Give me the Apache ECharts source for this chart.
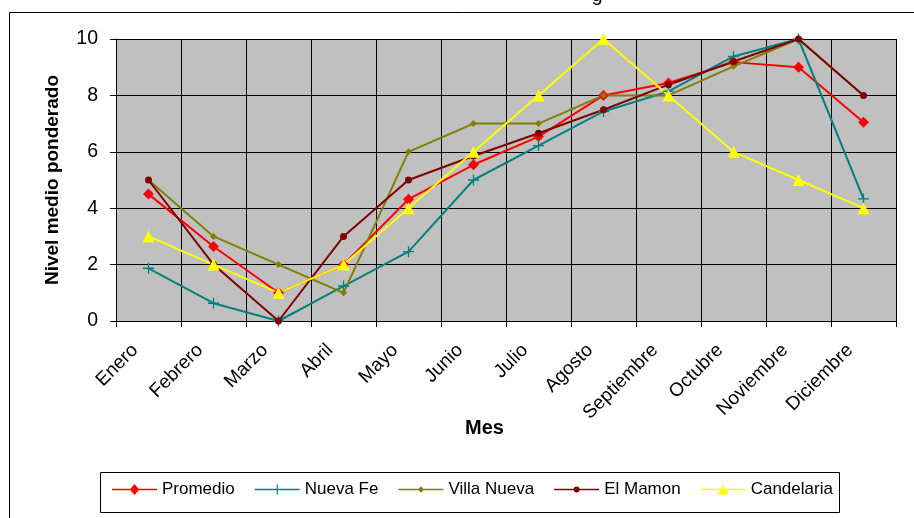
<!DOCTYPE html>
<html>
<head>
<meta charset="utf-8">
<script src="https://cdn.jsdelivr.net/npm/echarts@6/dist/echarts.min.js"></script>
<style>
  html, body { margin: 0; padding: 0; background: #fff; }
  #chart { width: 914px; height: 518px; }
</style>
</head>
<body>
<div id="chart"></div>
<script>
// Monthly weighted mean level per locality
const months = ['Enero', 'Febrero', 'Marzo', 'Abril', 'Mayo', 'Junio', 'Julio', 'Agosto', 'Septiembre', 'Octubre', 'Noviembre', 'Diciembre'];
const promedio   = [4.5, 2.64, 1, 2, 4.32, 5.54, 6.54, 8, 8.44, 9.18, 9, 7.05];
const nuevaFe    = [1.87, 0.63, 0, 1.24, 2.46, 5, 6.22, 7.43, 8.14, 9.38, 10, 4.33];
const villaNueva = [5, 3, 2, 1, 6, 7, 7, 8, 8, 9.03, 10, 8];
const elMamon    = [5, 2, 0, 3, 5, 5.85, 6.66, 7.49, 8.38, 9.2, 10, 8];
const candelaria = [3, 2, 1, 2, 4, 6, 8, 10, 8, 6, 5, 4];
const yMin = 0, yMax = 10, yStep = 2;

const FONT = '"Liberation Sans", Arial, sans-serif';
const PLUS = 'path://M4.4,0h1.2v4.4h4.4v1.2h-4.4v4.4h-1.2v-4.4h-4.4v-1.2h4.4z';

// Legend keys: a 45x12 line segment with the series marker in the middle.
// Degenerate segments at the top and bottom keep every key's bounds at 45x12.
const KEY_FRAME = 'M22.5,0L22.5,0M22.5,12L22.5,12';
const KEY_LINE = 'M0,5.2h45v1.6h-45z';
const legendKeys = {
  'Promedio':    'path://' + KEY_FRAME + KEY_LINE + 'M17.8,6L22.5,0.5L27.2,6L22.5,11.5Z',
  'Nueva Fe':    'path://' + KEY_FRAME + KEY_LINE + 'M21.9,1h1.2v10h-1.2zM17.5,5.4h10v1.2h-10z',
  'Villa Nueva': 'path://' + KEY_FRAME + KEY_LINE + 'M19.3,6L22.5,2.8L25.7,6L22.5,9.2Z',
  'El Mamon':    'path://' + KEY_FRAME + KEY_LINE + 'M19.5,6A3,3 0 1,1 25.5,6A3,3 0 1,1 19.5,6Z',
  'Candelaria':  'path://' + KEY_FRAME + KEY_LINE + 'M22.5,1.5L28,11L17,11Z'
};

function line(name, data, color, symbol, size) {
  return {
    name, type: 'line', data,
    symbol, symbolSize: size, showAllSymbol: true,
    lineStyle: { color, width: 2 },
    itemStyle: { color, borderWidth: 0 },
    emphasis: { disabled: true },
    animation: false
  };
}

const seriesNames = ['Promedio', 'Nueva Fe', 'Villa Nueva', 'El Mamon', 'Candelaria'];

const chart = echarts.init(document.getElementById('chart'), null, { renderer: 'canvas' });
chart.setOption({
  backgroundColor: '#fff',
  textStyle: { fontFamily: FONT },
  grid: { left: 116, right: 18, top: 39, bottom: 197, show: true, backgroundColor: '#C0C0C0', borderWidth: 0 },
  xAxis: {
    type: 'category', data: months, boundaryGap: true,
    name: 'Mes', nameLocation: 'middle', nameGap: 97, nameMoveOverlap: false,
    nameTextStyle: { fontSize: 20, fontWeight: 'bold', color: '#000', fontFamily: FONT, padding: [0, 43, 0, 0] },
    axisLine: { lineStyle: { color: '#000', width: 1 } },
    axisTick: { show: true, length: 6, lineStyle: { color: '#000' } },
    axisLabel: { rotate: 45, margin: 13, padding: [0, 19, 0, 0], fontSize: 19, color: '#000', fontFamily: FONT, interval: 0 },
    splitLine: { show: true, lineStyle: { color: '#000', width: 1 } }
  },
  yAxis: {
    type: 'value', min: yMin, max: yMax, interval: yStep,
    name: 'Nivel medio ponderado', nameLocation: 'middle', nameGap: 54, nameMoveOverlap: false,
    nameTextStyle: { fontSize: 19, fontWeight: 'bold', color: '#000', fontFamily: FONT },
    axisLine: { show: true, lineStyle: { color: '#000', width: 1 } },
    axisTick: { show: true, length: 6, lineStyle: { color: '#000' } },
    axisLabel: { margin: 18, fontSize: 19.5, color: '#000', fontFamily: FONT },
    splitLine: { show: true, lineStyle: { color: '#000', width: 1 } }
  },
  legend: {
    left: 112, top: 481, padding: 0, itemGap: 20,
    itemWidth: 45, itemHeight: 12,
    textStyle: { fontSize: 17, color: '#000', fontFamily: FONT },
    data: seriesNames.map(n => ({ name: n, icon: legendKeys[n] })),
    selectedMode: false
  },
  graphic: [
    { type: 'rect', shape: { x: 9.5, y: 12.5, width: 1000, height: 1000 }, style: { fill: 'none', stroke: '#000', lineWidth: 1 }, silent: true, z: -10 },
    { type: 'rect', shape: { x: 100.5, y: 472.5, width: 739, height: 40 }, style: { fill: '#fff', stroke: '#000', lineWidth: 1 }, silent: true, z: -5 },
    { type: 'text', x: 597, y: 5, style: { text: 'g', fontSize: 20, fontFamily: FONT, align: 'center', verticalAlign: 'bottom', fill: '#000' }, silent: true }
  ],
  series: [
    line('Promedio', promedio, '#FF0000', 'diamond', 11),
    line('Nueva Fe', nuevaFe, '#008080', PLUS, 11),
    line('Villa Nueva', villaNueva, '#808000', 'diamond', 7),
    line('El Mamon', elMamon, '#800000', 'circle', 7),
    line('Candelaria', candelaria, '#FFFF00', 'triangle', 12)
  ]
});
</script>
</body>
</html>
